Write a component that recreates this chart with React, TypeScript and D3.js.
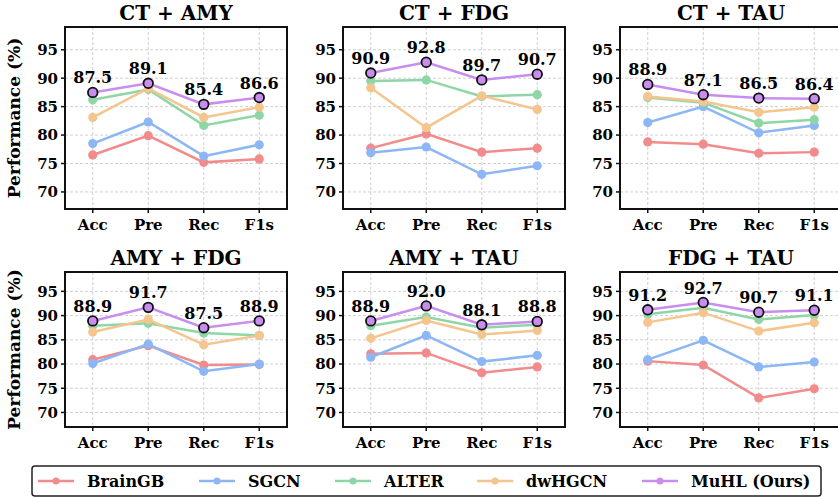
import React from "react";
import * as d3 from "d3";

const metrics = ["Acc", "Pre", "Rec", "F1s"];
const panelTitles = ["CT + AMY", "CT + FDG", "CT + TAU", "AMY + FDG", "AMY + TAU", "FDG + TAU"];
const methods = ["BrainGB", "SGCN", "ALTER", "dwHGCN", "MuHL (Ours)"];
const colors = ["#F28B8B", "#8DB6F6", "#8FD6A6", "#F4C58E", "#C98DF0"];
const yTicks = [70, 75, 80, 85, 90, 95];

// values per panel: [panel][metric]
const brainGB = [
  [76.5, 79.9, 75.2, 75.8],
  [77.7, 80.2, 77.0, 77.7],
  [78.8, 78.4, 76.8, 77.0],
  [80.9, 83.8, 79.8, 79.9],
  [82.1, 82.3, 78.2, 79.4],
  [80.6, 79.8, 73.0, 74.9],
];
const sgcn = [
  [78.5, 82.3, 76.3, 78.3],
  [76.9, 77.9, 73.1, 74.6],
  [82.2, 85.0, 80.4, 81.7],
  [80.1, 84.1, 78.5, 80.0],
  [81.4, 85.9, 80.5, 81.8],
  [80.9, 84.9, 79.4, 80.4],
];
const alter = [
  [86.2, 88.0, 81.7, 83.5],
  [89.5, 89.7, 86.8, 87.1],
  [86.6, 85.7, 82.1, 82.7],
  [87.9, 88.4, 86.4, 85.9],
  [87.9, 89.7, 87.5, 88.1],
  [90.3, 91.6, 89.2, 90.1],
];
const dwhgcn = [
  [83.1, 88.2, 83.1, 84.9],
  [88.3, 81.3, 86.9, 84.5],
  [86.8, 85.9, 84.0, 84.9],
  [86.6, 89.2, 84.0, 85.9],
  [85.3, 89.0, 86.1, 86.9],
  [88.6, 90.6, 86.8, 88.5],
];
const muhl = [
  [87.5, 89.1, 85.4, 86.6],
  [90.9, 92.8, 89.7, 90.7],
  [88.9, 87.1, 86.5, 86.4],
  [88.9, 91.7, 87.5, 88.9],
  [88.9, 92.0, 88.1, 88.8],
  [91.2, 92.7, 90.7, 91.1],
];
const seriesData = [brainGB, sgcn, alter, dwhgcn, muhl];

const FONT = "DejaVu Serif, Liberation Serif, serif";
const W = 838;
const H = 497;
const colLefts = [65, 343, 620];
const panelW = 222;
const rows = [
  { top: 27, bottom: 209 },
  { top: 272, bottom: 427 },
];

function Panel({ idx }: { idx: number }) {
  const r = Math.floor(idx / 3);
  const c = idx % 3;
  const left = colLefts[c];
  const { top, bottom } = rows[r];
  const x = d3.scaleLinear().domain([-0.5, 3.5]).range([left, left + panelW]);
  const y = d3.scaleLinear().domain([67, 99]).range([bottom, top]);
  const line = d3
    .line<number>()
    .x((_, i) => x(i))
    .y((d) => y(d));
  return (
    <g>
      <text
        x={left + panelW / 2}
        y={top - 7}
        textAnchor="middle"
        fontWeight="bold"
        fontSize={20}
      >
        {panelTitles[idx]}
      </text>
      {yTicks.map((t) => (
        <line
          key={"gy" + t}
          x1={left}
          x2={left + panelW}
          y1={y(t)}
          y2={y(t)}
          stroke="#c4c4c4"
          strokeWidth={0.8}
          strokeDasharray="3,2"
        />
      ))}
      {metrics.map((m, i) => (
        <line
          key={"gx" + m}
          x1={x(i)}
          x2={x(i)}
          y1={top}
          y2={bottom}
          stroke="#c4c4c4"
          strokeWidth={0.8}
          strokeDasharray="3,2"
        />
      ))}
      {seriesData.map((s, si) => (
        <g key={"s" + si}>
          <path d={line(s[idx]) || ""} fill="none" stroke={colors[si]} strokeWidth={2.5} />
          {s[idx].map((v, i) => (
            <circle
              key={i}
              cx={x(i)}
              cy={y(v)}
              r={si === 4 ? 4.8 : 4.6}
              fill={colors[si]}
              stroke={si === 4 ? "#111" : "none"}
              strokeWidth={si === 4 ? 1.8 : 0}
            />
          ))}
        </g>
      ))}
      {muhl[idx].map((v, i) => (
        <text
          key={"lab" + i}
          x={x(i)}
          y={y(v) - 9}
          textAnchor="middle"
          fontWeight="bold"
          fontSize={16}
        >
          {v.toFixed(1)}
        </text>
      ))}
      <rect x={left} y={top} width={panelW} height={bottom - top} fill="none" stroke="#111" strokeWidth={2} />
      {yTicks.map((t) => (
        <g key={"yt" + t}>
          <line x1={left - 4} x2={left} y1={y(t)} y2={y(t)} stroke="#111" strokeWidth={1.5} />
          <text x={left - 7} y={y(t)} dy="0.36em" textAnchor="end" fontWeight="bold" fontSize={15}>
            {t}
          </text>
        </g>
      ))}
      {metrics.map((m, i) => (
        <g key={"xt" + m}>
          <line x1={x(i)} x2={x(i)} y1={bottom} y2={bottom + 4} stroke="#111" strokeWidth={1.5} />
          <text x={x(i)} y={bottom + 21} textAnchor="middle" fontWeight="bold" fontSize={15}>
            {m}
          </text>
        </g>
      ))}
      {c === 0 && (
        <text
          transform={`translate(${left - 45},${(top + bottom) / 2}) rotate(-90)`}
          textAnchor="middle"
          fontWeight="bold"
          fontSize={17}
        >
          Performance (%)
        </text>
      )}
    </g>
  );
}

const legendX = [38, 199, 335, 477, 642];

export default function App() {
  return (
    <svg
      width={W}
      height={H}
      fontFamily={FONT}
      style={{ position: "absolute", left: 0, top: 0, background: "#fff", fontFamily: FONT }}
    >
      <rect x={0} y={0} width={W} height={H} fill="#fff" />
      {panelTitles.map((_, i) => (
        <Panel key={i} idx={i} />
      ))}
      <rect x={32} y={466} width={789} height={30} rx={3} fill="#fff" stroke="#222" strokeWidth={1.5} />
      {methods.map((m, i) => (
        <g key={m}>
          <line x1={legendX[i]} x2={legendX[i] + 36} y1={481} y2={481} stroke={colors[i]} strokeWidth={2.5} />
          <circle cx={legendX[i] + 18} cy={481} r={3.5} fill={colors[i]} />
          <text x={legendX[i] + 49} y={481} dy="0.36em" fontWeight="bold" fontSize={16}>
            {m}
          </text>
        </g>
      ))}
    </svg>
  );
}
